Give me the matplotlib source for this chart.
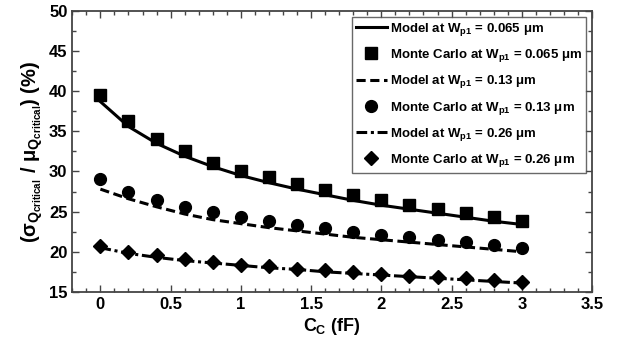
import matplotlib
matplotlib.use("Agg")
import matplotlib.pyplot as plt
from matplotlib.ticker import MultipleLocator

plt.rcParams["font.family"] = ["Liberation Sans", "DejaVu Sans"]
plt.rcParams["font.weight"] = "bold"
plt.rcParams["mathtext.fontset"] = "custom"
plt.rcParams["mathtext.rm"] = "Liberation Sans:bold"
plt.rcParams["mathtext.it"] = "Liberation Sans:bold"
plt.rcParams["mathtext.bf"] = "Liberation Sans:bold"

# Coupling capacitance (fF)
cc = [0.0, 0.2, 0.4, 0.6, 0.8, 1.0, 1.2, 1.4, 1.6, 1.8, 2.0, 2.2, 2.4, 2.6, 2.8, 3.0]

# Wp1 = 0.065 um
model_065 = [38.7, 35.6, 33.5, 31.9, 30.6, 29.5, 28.6, 27.8, 27.1, 26.4, 25.8, 25.3, 24.8, 24.3, 23.8, 23.4]
mc_065 = [39.5, 36.3, 34.1, 32.5, 31.1, 30.1, 29.3, 28.5, 27.7, 27.1, 26.5, 25.8, 25.3, 24.8, 24.3, 23.85]

# Wp1 = 0.13 um
model_13 = [27.8, 26.6, 25.6, 24.7, 24.0, 23.5, 23.0, 22.6, 22.2, 21.8, 21.5, 21.2, 20.9, 20.6, 20.3, 20.0]
mc_13 = [29.1, 27.4, 26.4, 25.55, 24.9, 24.3, 23.85, 23.35, 22.9, 22.5, 22.1, 21.8, 21.5, 21.2, 20.8, 20.45]

# Wp1 = 0.26 um
model_26 = [20.5, 19.8, 19.3, 18.9, 18.6, 18.3, 18.0, 17.8, 17.5, 17.3, 17.1, 16.9, 16.7, 16.5, 16.3, 16.1]
mc_26 = [20.7, 20.0, 19.6, 19.1, 18.7, 18.4, 18.2, 17.85, 17.7, 17.5, 17.2, 17.0, 16.8, 16.7, 16.5, 16.25]

fig, ax = plt.subplots(figsize=(6.18, 3.41), dpi=100)
fig.subplots_adjust(left=0.117, right=0.958, top=0.968, bottom=0.144)

lw = 2.2
ax.plot(cc, model_065, "k-", lw=lw, label=r"Model at $W_{p1}$ = 0.065 $\mu$m")
ax.plot(cc, mc_065, "ks", ms=8, ls="none", label=r"Monte Carlo at $W_{p1}$ = 0.065 $\mu$m")
ax.plot(cc, model_13, "k--", lw=lw, dashes=(3, 1.5), label=r"Model at $W_{p1}$ = 0.13 $\mu$m")
ax.plot(cc, mc_13, "ko", ms=8.5, ls="none", label=r"Monte Carlo at $W_{p1}$ = 0.13 $\mu$m")
ax.plot(cc, model_26, "k-.", lw=lw, dashes=(3.5, 1.2, 1, 1.2), label=r"Model at $W_{p1}$ = 0.26 $\mu$m")
ax.plot(cc, mc_26, "kD", ms=7, ls="none", label=r"Monte Carlo at $W_{p1}$ = 0.26 $\mu$m")

ax.set_xlim(-0.2, 3.5)
ax.set_ylim(15, 50)
ax.xaxis.set_minor_locator(MultipleLocator(0.1))
ax.yaxis.set_major_locator(MultipleLocator(5))
ax.yaxis.set_minor_locator(MultipleLocator(2.5))
ax.set_xticks([0, 0.5, 1, 1.5, 2, 2.5, 3, 3.5])
ax.set_xticklabels(["0", "0.5", "1", "1.5", "2", "2.5", "3", "3.5"])

ax.tick_params(which="both", direction="in", top=True, right=True,
               labelsize=12, width=1.0, color="#444444")
ax.tick_params(which="major", length=5)
ax.tick_params(which="minor", length=3)
for lab in ax.get_xticklabels() + ax.get_yticklabels():
    lab.set_fontweight("bold")
for side in ax.spines.values():
    side.set_color("#444444")
    side.set_linewidth(1.3)

ax.set_xlabel(r"$C_C$ (fF)", fontsize=13, fontweight="bold", labelpad=3)
ax.set_ylabel(r"$(\sigma_{Q_{critical}}\ /\ \mu_{Q_{critical}})$ (%)",
              fontsize=14.5, fontweight="bold", labelpad=3)

leg = ax.legend(loc="upper right", fontsize=9.5, frameon=True, fancybox=False,
                edgecolor="#444444", handlelength=2.4, handletextpad=0.2,
                borderaxespad=0.45, labelspacing=0.7, borderpad=0.3)
leg.get_frame().set_linewidth(1.0)
for t in leg.get_texts():
    t.set_fontweight("bold")

fig.savefig("out.png", dpi=100)
